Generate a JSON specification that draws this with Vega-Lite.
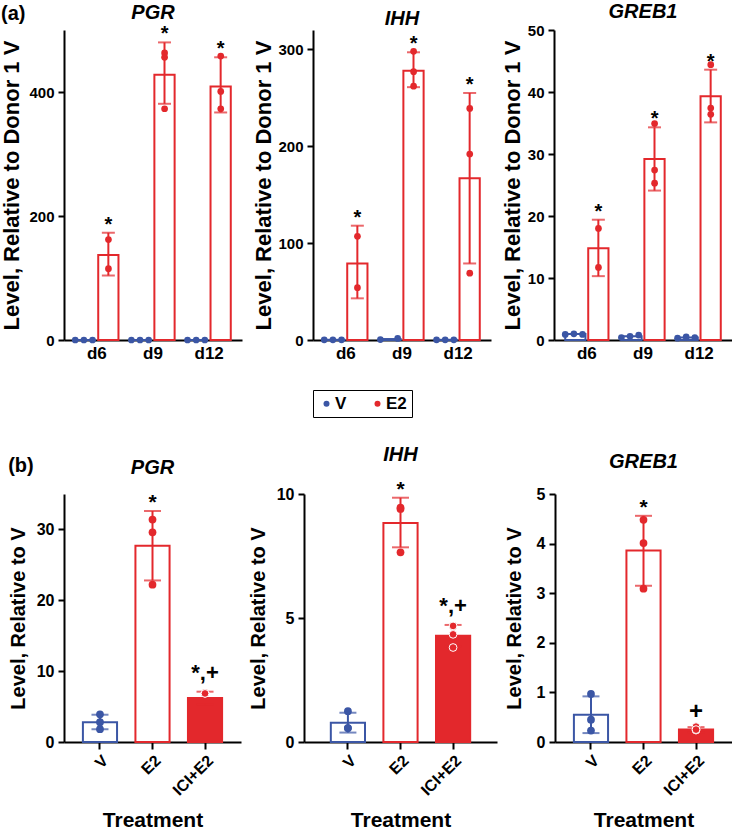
{
  "$schema": "https://vega.github.io/schema/vega-lite/v6.json",
  "padding": {"left": 0, "top": 2, "right": 0, "bottom": 0},
  "config": {
    "font": "Liberation Sans",
    "view": {"stroke": null},
    "axis": {"domainColor": "black", "domainWidth": 2, "tickColor": "black", "tickWidth": 2, "labelColor": "black", "labelFontWeight": "bold", "titleFontWeight": "bold", "titleColor": "black", "grid": false},
    "title": {"fontWeight": "bold", "fontStyle": "italic", "fontSize": 20, "color": "black"}
  },
  "datasets": {
    "aBars": [
      {"gene": "PGR", "day": "d6", "group": "V", "mean": 0, "lo": 0, "hi": 0, "sig": ""},
      {"gene": "PGR", "day": "d9", "group": "V", "mean": 0, "lo": 0, "hi": 0, "sig": ""},
      {"gene": "PGR", "day": "d12", "group": "V", "mean": 0, "lo": 0, "hi": 0, "sig": ""},
      {"gene": "PGR", "day": "d6", "group": "E2", "mean": 137, "lo": 104, "hi": 173, "sig": "*"},
      {"gene": "PGR", "day": "d9", "group": "E2", "mean": 428, "lo": 381, "hi": 480, "sig": "*"},
      {"gene": "PGR", "day": "d12", "group": "E2", "mean": 409, "lo": 367, "hi": 456, "sig": "*"},
      {"gene": "IHH", "day": "d6", "group": "V", "mean": 0.2, "lo": 0.1, "hi": 0.3, "sig": ""},
      {"gene": "IHH", "day": "d9", "group": "V", "mean": 1, "lo": 0.5, "hi": 1.5, "sig": ""},
      {"gene": "IHH", "day": "d12", "group": "V", "mean": 0.2, "lo": 0.1, "hi": 0.3, "sig": ""},
      {"gene": "IHH", "day": "d6", "group": "E2", "mean": 79, "lo": 43, "hi": 118, "sig": "*"},
      {"gene": "IHH", "day": "d9", "group": "E2", "mean": 278, "lo": 261, "hi": 297, "sig": "*"},
      {"gene": "IHH", "day": "d12", "group": "E2", "mean": 167, "lo": 79, "hi": 255, "sig": "*"},
      {"gene": "GREB1", "day": "d6", "group": "V", "mean": 0.95, "lo": 0.9, "hi": 1.0, "sig": ""},
      {"gene": "GREB1", "day": "d9", "group": "V", "mean": 0.6, "lo": 0.4, "hi": 0.8, "sig": ""},
      {"gene": "GREB1", "day": "d12", "group": "V", "mean": 0.4, "lo": 0.3, "hi": 0.5, "sig": ""},
      {"gene": "GREB1", "day": "d6", "group": "E2", "mean": 14.8, "lo": 10.3, "hi": 19.4, "sig": "*"},
      {"gene": "GREB1", "day": "d9", "group": "E2", "mean": 29.2, "lo": 24.1, "hi": 34.3, "sig": "*"},
      {"gene": "GREB1", "day": "d12", "group": "E2", "mean": 39.3, "lo": 35.1, "hi": 43.6, "sig": "*"}
    ],
    "aPts": [
      {"gene": "PGR", "day": "d6", "group": "V", "sample": "V-1", "value": 0},
      {"gene": "PGR", "day": "d6", "group": "V", "sample": "V-2", "value": 0},
      {"gene": "PGR", "day": "d6", "group": "V", "sample": "V-3", "value": 0},
      {"gene": "PGR", "day": "d9", "group": "V", "sample": "V-1", "value": 0},
      {"gene": "PGR", "day": "d9", "group": "V", "sample": "V-2", "value": 0},
      {"gene": "PGR", "day": "d9", "group": "V", "sample": "V-3", "value": 0},
      {"gene": "PGR", "day": "d12", "group": "V", "sample": "V-1", "value": 0},
      {"gene": "PGR", "day": "d12", "group": "V", "sample": "V-2", "value": 0},
      {"gene": "PGR", "day": "d12", "group": "V", "sample": "V-3", "value": 0},
      {"gene": "PGR", "day": "d6", "group": "E2", "sample": "E2-1", "value": 162},
      {"gene": "PGR", "day": "d6", "group": "E2", "sample": "E2-2", "value": 115},
      {"gene": "PGR", "day": "d9", "group": "E2", "sample": "E2-1", "value": 463},
      {"gene": "PGR", "day": "d9", "group": "E2", "sample": "E2-2", "value": 456},
      {"gene": "PGR", "day": "d9", "group": "E2", "sample": "E2-3", "value": 373},
      {"gene": "PGR", "day": "d12", "group": "E2", "sample": "E2-1", "value": 458},
      {"gene": "PGR", "day": "d12", "group": "E2", "sample": "E2-2", "value": 401},
      {"gene": "PGR", "day": "d12", "group": "E2", "sample": "E2-3", "value": 373},
      {"gene": "IHH", "day": "d6", "group": "V", "sample": "V-1", "value": 0.2},
      {"gene": "IHH", "day": "d6", "group": "V", "sample": "V-2", "value": 0.2},
      {"gene": "IHH", "day": "d6", "group": "V", "sample": "V-3", "value": 0.2},
      {"gene": "IHH", "day": "d9", "group": "V", "sample": "V-1", "value": 0.4},
      {"gene": "IHH", "day": "d9", "group": "V", "sample": "V-3", "value": 1.6},
      {"gene": "IHH", "day": "d12", "group": "V", "sample": "V-1", "value": 0.2},
      {"gene": "IHH", "day": "d12", "group": "V", "sample": "V-2", "value": 0.2},
      {"gene": "IHH", "day": "d12", "group": "V", "sample": "V-3", "value": 0.2},
      {"gene": "IHH", "day": "d6", "group": "E2", "sample": "E2-1", "value": 107},
      {"gene": "IHH", "day": "d6", "group": "E2", "sample": "E2-2", "value": 54},
      {"gene": "IHH", "day": "d9", "group": "E2", "sample": "E2-1", "value": 298},
      {"gene": "IHH", "day": "d9", "group": "E2", "sample": "E2-2", "value": 277},
      {"gene": "IHH", "day": "d9", "group": "E2", "sample": "E2-3", "value": 262},
      {"gene": "IHH", "day": "d12", "group": "E2", "sample": "E2-1", "value": 239},
      {"gene": "IHH", "day": "d12", "group": "E2", "sample": "E2-2", "value": 192},
      {"gene": "IHH", "day": "d12", "group": "E2", "sample": "E2-3", "value": 69},
      {"gene": "GREB1", "day": "d6", "group": "V", "sample": "V-1", "value": 0.9},
      {"gene": "GREB1", "day": "d6", "group": "V", "sample": "V-2", "value": 1.0},
      {"gene": "GREB1", "day": "d6", "group": "V", "sample": "V-3", "value": 0.9},
      {"gene": "GREB1", "day": "d9", "group": "V", "sample": "V-1", "value": 0.4},
      {"gene": "GREB1", "day": "d9", "group": "V", "sample": "V-2", "value": 0.6},
      {"gene": "GREB1", "day": "d9", "group": "V", "sample": "V-3", "value": 0.8},
      {"gene": "GREB1", "day": "d12", "group": "V", "sample": "V-1", "value": 0.3},
      {"gene": "GREB1", "day": "d12", "group": "V", "sample": "V-2", "value": 0.5},
      {"gene": "GREB1", "day": "d12", "group": "V", "sample": "V-3", "value": 0.4},
      {"gene": "GREB1", "day": "d6", "group": "E2", "sample": "E2-1", "value": 18.0},
      {"gene": "GREB1", "day": "d6", "group": "E2", "sample": "E2-2", "value": 11.7},
      {"gene": "GREB1", "day": "d9", "group": "E2", "sample": "E2-1", "value": 34.9},
      {"gene": "GREB1", "day": "d9", "group": "E2", "sample": "E2-2", "value": 27.4},
      {"gene": "GREB1", "day": "d9", "group": "E2", "sample": "E2-3", "value": 25.3},
      {"gene": "GREB1", "day": "d12", "group": "E2", "sample": "E2-1", "value": 44.4},
      {"gene": "GREB1", "day": "d12", "group": "E2", "sample": "E2-2", "value": 37.4},
      {"gene": "GREB1", "day": "d12", "group": "E2", "sample": "E2-3", "value": 36.4}
    ],
    "bBars": [
      {"gene": "PGR", "treatment": "V", "mean": 2.8, "lo": 1.8, "hi": 3.85, "sig": ""},
      {"gene": "PGR", "treatment": "E2", "mean": 27.7, "lo": 22.8, "hi": 32.6, "sig": "*"},
      {"gene": "PGR", "treatment": "ICI+E2", "mean": 6.2, "lo": 5.3, "hi": 7.1, "sig": "*,+"},
      {"gene": "IHH", "treatment": "V", "mean": 0.78, "lo": 0.38, "hi": 1.18, "sig": ""},
      {"gene": "IHH", "treatment": "E2", "mean": 8.83, "lo": 7.85, "hi": 9.85, "sig": "*"},
      {"gene": "IHH", "treatment": "ICI+E2", "mean": 4.28, "lo": 3.84, "hi": 4.72, "sig": "*,+"},
      {"gene": "GREB1", "treatment": "V", "mean": 0.55, "lo": 0.18, "hi": 0.92, "sig": ""},
      {"gene": "GREB1", "treatment": "E2", "mean": 3.86, "lo": 3.15, "hi": 4.56, "sig": "*"},
      {"gene": "GREB1", "treatment": "ICI+E2", "mean": 0.25, "lo": 0.2, "hi": 0.3, "sig": "+"}
    ],
    "bPts": [
      {"gene": "PGR", "treatment": "V", "value": 3.9},
      {"gene": "PGR", "treatment": "V", "value": 2.8},
      {"gene": "PGR", "treatment": "V", "value": 1.8},
      {"gene": "PGR", "treatment": "E2", "value": 31.4},
      {"gene": "PGR", "treatment": "E2", "value": 29.6},
      {"gene": "PGR", "treatment": "E2", "value": 22.2},
      {"gene": "PGR", "treatment": "ICI+E2", "value": 6.95},
      {"gene": "PGR", "treatment": "ICI+E2", "value": 6.9},
      {"gene": "PGR", "treatment": "ICI+E2", "value": 6.85},
      {"gene": "IHH", "treatment": "V", "value": 1.24},
      {"gene": "IHH", "treatment": "V", "value": 0.56},
      {"gene": "IHH", "treatment": "V", "value": 0.56},
      {"gene": "IHH", "treatment": "E2", "value": 9.45},
      {"gene": "IHH", "treatment": "E2", "value": 9.4},
      {"gene": "IHH", "treatment": "E2", "value": 7.65},
      {"gene": "IHH", "treatment": "ICI+E2", "value": 4.68},
      {"gene": "IHH", "treatment": "ICI+E2", "value": 4.34},
      {"gene": "IHH", "treatment": "ICI+E2", "value": 3.81},
      {"gene": "GREB1", "treatment": "V", "value": 0.97},
      {"gene": "GREB1", "treatment": "V", "value": 0.45},
      {"gene": "GREB1", "treatment": "V", "value": 0.23},
      {"gene": "GREB1", "treatment": "E2", "value": 4.48},
      {"gene": "GREB1", "treatment": "E2", "value": 4.01},
      {"gene": "GREB1", "treatment": "E2", "value": 3.09},
      {"gene": "GREB1", "treatment": "ICI+E2", "value": 0.24},
      {"gene": "GREB1", "treatment": "ICI+E2", "value": 0.31},
      {"gene": "GREB1", "treatment": "ICI+E2", "value": 0.25}
    ]
  },
  "vconcat": [
    {
      "title": {"text": "(a)", "anchor": "start", "frame": "bounds", "fontStyle": "normal", "fontSize": 20, "offset": -22},
      "columns": 3,
      "align": "none",
      "spacing": 10,
      "resolve": {"scale": {"color": "independent"}},
      "concat": [
        {
          "width": 178, "height": 310,
          "title": {"text": "PGR", "offset": 1},
          "encoding": {
            "x": {"field": "day", "type": "nominal", "sort": ["d6", "d9", "d12"], "title": null, "scale": {"paddingInner": 0.23, "paddingOuter": 0.2}, "axis": {"ticks": false, "labelAngle": 0, "labelPadding": 5, "labelFontSize": 17}}
          },
          "resolve": {"scale": {"xOffset": "independent"}},
          "layer": [
            {"data": {"name": "aBars"}, "transform": [{"filter": "datum.gene === 'PGR'"}],
             "mark": {"type": "bar", "fill": "white", "strokeWidth": 2},
             "encoding": {
               "xOffset": {"field": "group", "scale": {"domain": ["V", "E2"], "paddingInner": 0.12, "paddingOuter": 0}},
               "y": {"field": "mean", "type": "quantitative", "scale": {"domain": [0, 500], "nice": false}, "title": "Level, Relative to Donor 1 V", "axis": {"values": [0, 200, 400], "tickSize": 6, "labelPadding": 4, "labelFontSize": 15, "titleFontSize": 22, "titlePadding": 5}},
               "stroke": {"field": "group", "scale": {"domain": ["V", "E2"], "range": ["#3b56a5", "#e3282c"]}, "legend": null}}},
            {"data": {"name": "aBars"}, "transform": [{"filter": "datum.gene === 'PGR' && datum.group === 'E2'"}],
             "mark": {"type": "rule", "strokeWidth": 2},
             "encoding": {
               "xOffset": {"field": "group", "scale": {"domain": ["V", "E2"], "paddingInner": 0.12, "paddingOuter": 0}},
               "y": {"field": "lo", "type": "quantitative"}, "y2": {"field": "hi"},
               "stroke": {"field": "group", "legend": null}}},
            {"data": {"name": "aBars"}, "transform": [{"filter": "datum.gene === 'PGR' && datum.group === 'E2'"}, {"fold": ["lo", "hi"], "as": ["end", "yv"]}],
             "mark": {"type": "tick", "orient": "horizontal", "size": 13, "thickness": 2},
             "encoding": {
               "xOffset": {"field": "group", "scale": {"domain": ["V", "E2"], "paddingInner": 0.12, "paddingOuter": 0}},
               "y": {"field": "yv", "type": "quantitative"},
               "fill": {"field": "group", "scale": {"domain": ["V", "E2"], "range": ["#3b56a5", "#e3282c"]}, "legend": null}}},
            {"data": {"name": "aPts"}, "transform": [{"filter": "datum.gene === 'PGR' && datum.group === 'V'"}],
             "mark": {"type": "circle", "size": 45, "opacity": 1},
             "encoding": {
               "xOffset": {"field": "sample", "scale": {"domain": ["V-1", "V-2", "V-3", "E2-1", "E2-2", "E2-3"], "paddingInner": 0, "paddingOuter": 0}},
               "y": {"field": "value", "type": "quantitative"},
               "color": {"field": "group", "scale": {"domain": ["V", "E2"], "range": ["#3b56a5", "#e3282c"]}, "legend": null}}},
            {"data": {"name": "aPts"}, "transform": [{"filter": "datum.gene === 'PGR' && datum.group === 'E2'"}],
             "mark": {"type": "circle", "size": 45, "opacity": 1, "xOffset": 11.6},
             "encoding": {
               "y": {"field": "value", "type": "quantitative"},
               "color": {"field": "group", "legend": null}}},
            {"data": {"name": "aBars"}, "transform": [{"filter": "datum.gene === 'PGR' && datum.sig !== ''"}],
             "mark": {"type": "text", "fontSize": 20, "fontWeight": "bold", "baseline": "alphabetic", "dy": -2, "xOffset": 11.6, "color": "black"},
             "encoding": {
               "y": {"field": "hi", "type": "quantitative"},
               "text": {"field": "sig"}}}
          ]
        },
        {
          "width": 178, "height": 310,
          "title": {"text": "IHH", "offset": 1},
          "encoding": {
            "x": {"field": "day", "type": "nominal", "sort": ["d6", "d9", "d12"], "title": null, "scale": {"paddingInner": 0.23, "paddingOuter": 0.2}, "axis": {"ticks": false, "labelAngle": 0, "labelPadding": 5, "labelFontSize": 17}}
          },
          "resolve": {"scale": {"xOffset": "independent"}},
          "layer": [
            {"data": {"name": "aBars"}, "transform": [{"filter": "datum.gene === 'IHH'"}],
             "mark": {"type": "bar", "fill": "white", "strokeWidth": 2},
             "encoding": {
               "xOffset": {"field": "group", "scale": {"domain": ["V", "E2"], "paddingInner": 0.12, "paddingOuter": 0}},
               "y": {"field": "mean", "type": "quantitative", "scale": {"domain": [0, 320], "nice": false}, "title": "Level, Relative to Donor 1 V", "axis": {"values": [0, 100, 200, 300], "tickSize": 6, "labelPadding": 4, "labelFontSize": 15, "titleFontSize": 22, "titlePadding": 2}},
               "stroke": {"field": "group", "scale": {"domain": ["V", "E2"], "range": ["#3b56a5", "#e3282c"]}, "legend": null}}},
            {"data": {"name": "aBars"}, "transform": [{"filter": "datum.gene === 'IHH' && datum.group === 'E2'"}],
             "mark": {"type": "rule", "strokeWidth": 2},
             "encoding": {
               "xOffset": {"field": "group", "scale": {"domain": ["V", "E2"], "paddingInner": 0.12, "paddingOuter": 0}},
               "y": {"field": "lo", "type": "quantitative"}, "y2": {"field": "hi"},
               "stroke": {"field": "group", "legend": null}}},
            {"data": {"name": "aBars"}, "transform": [{"filter": "datum.gene === 'IHH' && datum.group === 'E2'"}, {"fold": ["lo", "hi"], "as": ["end", "yv"]}],
             "mark": {"type": "tick", "orient": "horizontal", "size": 13, "thickness": 2},
             "encoding": {
               "xOffset": {"field": "group", "scale": {"domain": ["V", "E2"], "paddingInner": 0.12, "paddingOuter": 0}},
               "y": {"field": "yv", "type": "quantitative"},
               "fill": {"field": "group", "scale": {"domain": ["V", "E2"], "range": ["#3b56a5", "#e3282c"]}, "legend": null}}},
            {"data": {"name": "aPts"}, "transform": [{"filter": "datum.gene === 'IHH' && datum.group === 'V'"}],
             "mark": {"type": "circle", "size": 45, "opacity": 1},
             "encoding": {
               "xOffset": {"field": "sample", "scale": {"domain": ["V-1", "V-2", "V-3", "E2-1", "E2-2", "E2-3"], "paddingInner": 0, "paddingOuter": 0}},
               "y": {"field": "value", "type": "quantitative"},
               "color": {"field": "group", "scale": {"domain": ["V", "E2"], "range": ["#3b56a5", "#e3282c"]},
                 "legend": {"title": null, "orient": "bottom", "offset": 29, "direction": "horizontal", "strokeColor": "black", "padding": 5, "symbolType": "circle", "symbolSize": 36, "symbolOpacity": 1, "labelFontSize": 17, "labelFontWeight": "bold", "labelColor": "black", "labelOffset": 0, "columnPadding": 22}}}},
            {"data": {"name": "aPts"}, "transform": [{"filter": "datum.gene === 'IHH' && datum.group === 'E2'"}],
             "mark": {"type": "circle", "size": 45, "opacity": 1, "xOffset": 11.6},
             "encoding": {
               "y": {"field": "value", "type": "quantitative"},
               "color": {"field": "group"}}},
            {"data": {"name": "aBars"}, "transform": [{"filter": "datum.gene === 'IHH' && datum.sig !== ''"}],
             "mark": {"type": "text", "fontSize": 20, "fontWeight": "bold", "baseline": "alphabetic", "dy": -2, "xOffset": 11.6, "color": "black"},
             "encoding": {
               "y": {"field": "hi", "type": "quantitative"},
               "text": {"field": "sig"}}}
          ]
        },
        {
          "width": 178, "height": 310,
          "title": {"text": "GREB1", "offset": 1},
          "encoding": {
            "x": {"field": "day", "type": "nominal", "sort": ["d6", "d9", "d12"], "title": null, "scale": {"paddingInner": 0.23, "paddingOuter": 0.2}, "axis": {"ticks": false, "labelAngle": 0, "labelPadding": 5, "labelFontSize": 17}}
          },
          "resolve": {"scale": {"xOffset": "independent"}},
          "layer": [
            {"data": {"name": "aBars"}, "transform": [{"filter": "datum.gene === 'GREB1'"}],
             "mark": {"type": "bar", "fill": "white", "strokeWidth": 2},
             "encoding": {
               "xOffset": {"field": "group", "scale": {"domain": ["V", "E2"], "paddingInner": 0.12, "paddingOuter": 0}},
               "y": {"field": "mean", "type": "quantitative", "scale": {"domain": [0, 50], "nice": false}, "title": "Level, Relative to Donor 1 V", "axis": {"values": [0, 10, 20, 30, 40, 50], "tickSize": 6, "labelPadding": 4, "labelFontSize": 15, "titleFontSize": 22, "titlePadding": 3}},
               "stroke": {"field": "group", "scale": {"domain": ["V", "E2"], "range": ["#3b56a5", "#e3282c"]}, "legend": null}}},
            {"data": {"name": "aBars"}, "transform": [{"filter": "datum.gene === 'GREB1' && datum.group === 'E2'"}],
             "mark": {"type": "rule", "strokeWidth": 2},
             "encoding": {
               "xOffset": {"field": "group", "scale": {"domain": ["V", "E2"], "paddingInner": 0.12, "paddingOuter": 0}},
               "y": {"field": "lo", "type": "quantitative"}, "y2": {"field": "hi"},
               "stroke": {"field": "group", "legend": null}}},
            {"data": {"name": "aBars"}, "transform": [{"filter": "datum.gene === 'GREB1' && datum.group === 'E2'"}, {"fold": ["lo", "hi"], "as": ["end", "yv"]}],
             "mark": {"type": "tick", "orient": "horizontal", "size": 13, "thickness": 2},
             "encoding": {
               "xOffset": {"field": "group", "scale": {"domain": ["V", "E2"], "paddingInner": 0.12, "paddingOuter": 0}},
               "y": {"field": "yv", "type": "quantitative"},
               "fill": {"field": "group", "scale": {"domain": ["V", "E2"], "range": ["#3b56a5", "#e3282c"]}, "legend": null}}},
            {"data": {"name": "aPts"}, "transform": [{"filter": "datum.gene === 'GREB1' && datum.group === 'V'"}],
             "mark": {"type": "circle", "size": 45, "opacity": 1},
             "encoding": {
               "xOffset": {"field": "sample", "scale": {"domain": ["V-1", "V-2", "V-3", "E2-1", "E2-2", "E2-3"], "paddingInner": 0, "paddingOuter": 0}},
               "y": {"field": "value", "type": "quantitative"},
               "color": {"field": "group", "scale": {"domain": ["V", "E2"], "range": ["#3b56a5", "#e3282c"]}, "legend": null}}},
            {"data": {"name": "aPts"}, "transform": [{"filter": "datum.gene === 'GREB1' && datum.group === 'E2'"}],
             "mark": {"type": "circle", "size": 45, "opacity": 1, "xOffset": 11.6},
             "encoding": {
               "y": {"field": "value", "type": "quantitative"},
               "color": {"field": "group", "legend": null}}},
            {"data": {"name": "aBars"}, "transform": [{"filter": "datum.gene === 'GREB1' && datum.sig !== ''"}],
             "mark": {"type": "text", "fontSize": 20, "fontWeight": "bold", "baseline": "alphabetic", "dy": -2, "xOffset": 11.6, "color": "black"},
             "encoding": {
               "y": {"field": "hi", "type": "quantitative"},
               "text": {"field": "sig"}}}
          ]
        }
      ]
    },
    {
      "title": {"text": "(b)", "anchor": "start", "frame": "bounds", "fontStyle": "normal", "fontSize": 20, "offset": -31},
      "columns": 3,
      "align": "none",
      "spacing": 7,
      "concat": [
        {
          "width": 177, "height": 248,
          "title": {"text": "PGR", "offset": 14},
          "encoding": {
            "x": {"field": "treatment", "type": "nominal", "sort": ["V", "E2", "ICI+E2"], "title": "Treatment", "scale": {"paddingInner": 0.35, "paddingOuter": 0.36}, "axis": {"tickSize": 7, "labelAngle": -45, "labelPadding": 3, "labelFontSize": 16, "titleFontSize": 21, "titlePadding": 11}}
          },
          "layer": [
            {"data": {"name": "bBars"}, "transform": [{"filter": "datum.gene === 'PGR'"}],
             "mark": {"type": "bar", "strokeWidth": 2},
             "encoding": {
               "y": {"field": "mean", "type": "quantitative", "scale": {"domain": [0, 35], "nice": false}, "title": "Level, Relative to V", "axis": {"values": [0, 10, 20, 30], "tickSize": 6, "labelPadding": 4, "labelFontSize": 16, "titleFontSize": 20, "titlePadding": 8}},
               "fill": {"condition": {"test": "datum.treatment === 'ICI+E2'", "value": "#e3282c"}, "value": "white"},
               "stroke": {"field": "treatment", "scale": {"domain": ["V", "E2", "ICI+E2"], "range": ["#3b56a5", "#e3282c", "#e3282c"]}, "legend": null}}},
            {"data": {"name": "bBars"}, "transform": [{"filter": "datum.gene === 'PGR'"}],
             "mark": {"type": "rule", "strokeWidth": 2},
             "encoding": {"y": {"field": "lo", "type": "quantitative"}, "y2": {"field": "hi"}, "stroke": {"field": "treatment", "legend": null}}},
            {"data": {"name": "bBars"}, "transform": [{"filter": "datum.gene === 'PGR'"}, {"fold": ["lo", "hi"], "as": ["end", "yv"]}],
             "mark": {"type": "tick", "orient": "horizontal", "size": 17, "thickness": 2},
             "encoding": {"y": {"field": "yv", "type": "quantitative"}, "fill": {"field": "treatment", "scale": {"domain": ["V", "E2", "ICI+E2"], "range": ["#3b56a5", "#e3282c", "#e3282c"]}, "legend": null}}},
            {"data": {"name": "bPts"}, "transform": [{"filter": "datum.gene === 'PGR'"}],
             "mark": {"type": "circle", "size": 60, "opacity": 1, "strokeWidth": 1},
             "encoding": {"y": {"field": "value", "type": "quantitative"},
               "color": {"field": "treatment", "scale": {"domain": ["V", "E2", "ICI+E2"], "range": ["#3b56a5", "#e3282c", "#e3282c"]}, "legend": null},
               "stroke": {"condition": {"test": "datum.treatment === 'ICI+E2'", "value": "white"}, "value": null}}},
            {"data": {"name": "bBars"}, "transform": [{"filter": "datum.gene === 'PGR' && datum.sig === '*'"}],
             "mark": {"type": "text", "fontSize": 21, "fontWeight": "bold", "baseline": "alphabetic", "dy": -2, "color": "black"},
             "encoding": {"y": {"field": "hi", "type": "quantitative"}, "text": {"field": "sig"}}},
            {"data": {"name": "bBars"}, "transform": [{"filter": "datum.gene === 'PGR' && datum.sig !== '*' && datum.sig !== ''"}],
             "mark": {"type": "text", "fontSize": 22, "fontWeight": "bold", "baseline": "alphabetic", "dy": -12, "color": "black"},
             "encoding": {"y": {"field": "hi", "type": "quantitative"}, "text": {"field": "sig"}}}
          ]
        },
        {
          "width": 193, "height": 248,
          "title": {"text": "IHH", "offset": 14},
          "encoding": {
            "x": {"field": "treatment", "type": "nominal", "sort": ["V", "E2", "ICI+E2"], "title": "Treatment", "scale": {"paddingInner": 0.35, "paddingOuter": 0.51}, "axis": {"tickSize": 7, "labelAngle": -45, "labelPadding": 3, "labelFontSize": 16, "titleFontSize": 21, "titlePadding": 11}}
          },
          "layer": [
            {"data": {"name": "bBars"}, "transform": [{"filter": "datum.gene === 'IHH'"}],
             "mark": {"type": "bar", "strokeWidth": 2},
             "encoding": {
               "y": {"field": "mean", "type": "quantitative", "scale": {"domain": [0, 10], "nice": false}, "title": "Level, Relative to V", "axis": {"values": [0, 5, 10], "tickSize": 6, "labelPadding": 4, "labelFontSize": 16, "titleFontSize": 20, "titlePadding": 8}},
               "fill": {"condition": {"test": "datum.treatment === 'ICI+E2'", "value": "#e3282c"}, "value": "white"},
               "stroke": {"field": "treatment", "scale": {"domain": ["V", "E2", "ICI+E2"], "range": ["#3b56a5", "#e3282c", "#e3282c"]}, "legend": null}}},
            {"data": {"name": "bBars"}, "transform": [{"filter": "datum.gene === 'IHH'"}],
             "mark": {"type": "rule", "strokeWidth": 2},
             "encoding": {"y": {"field": "lo", "type": "quantitative"}, "y2": {"field": "hi"}, "stroke": {"field": "treatment", "legend": null}}},
            {"data": {"name": "bBars"}, "transform": [{"filter": "datum.gene === 'IHH'"}, {"fold": ["lo", "hi"], "as": ["end", "yv"]}],
             "mark": {"type": "tick", "orient": "horizontal", "size": 17, "thickness": 2},
             "encoding": {"y": {"field": "yv", "type": "quantitative"}, "fill": {"field": "treatment", "scale": {"domain": ["V", "E2", "ICI+E2"], "range": ["#3b56a5", "#e3282c", "#e3282c"]}, "legend": null}}},
            {"data": {"name": "bPts"}, "transform": [{"filter": "datum.gene === 'IHH'"}],
             "mark": {"type": "circle", "size": 60, "opacity": 1, "strokeWidth": 1},
             "encoding": {"y": {"field": "value", "type": "quantitative"},
               "color": {"field": "treatment", "scale": {"domain": ["V", "E2", "ICI+E2"], "range": ["#3b56a5", "#e3282c", "#e3282c"]}, "legend": null},
               "stroke": {"condition": {"test": "datum.treatment === 'ICI+E2'", "value": "white"}, "value": null}}},
            {"data": {"name": "bBars"}, "transform": [{"filter": "datum.gene === 'IHH' && datum.sig === '*'"}],
             "mark": {"type": "text", "fontSize": 21, "fontWeight": "bold", "baseline": "alphabetic", "dy": -2, "color": "black"},
             "encoding": {"y": {"field": "hi", "type": "quantitative"}, "text": {"field": "sig"}}},
            {"data": {"name": "bBars"}, "transform": [{"filter": "datum.gene === 'IHH' && datum.sig !== '*' && datum.sig !== ''"}],
             "mark": {"type": "text", "fontSize": 22, "fontWeight": "bold", "baseline": "alphabetic", "dy": -12, "color": "black"},
             "encoding": {"y": {"field": "hi", "type": "quantitative"}, "text": {"field": "sig"}}}
          ]
        },
        {
          "width": 177, "height": 248,
          "title": {"text": "GREB1", "offset": 14},
          "encoding": {
            "x": {"field": "treatment", "type": "nominal", "sort": ["V", "E2", "ICI+E2"], "title": "Treatment", "scale": {"paddingInner": 0.35, "paddingOuter": 0.36}, "axis": {"tickSize": 7, "labelAngle": -45, "labelPadding": 3, "labelFontSize": 16, "titleFontSize": 21, "titlePadding": 11}}
          },
          "layer": [
            {"data": {"name": "bBars"}, "transform": [{"filter": "datum.gene === 'GREB1'"}],
             "mark": {"type": "bar", "strokeWidth": 2},
             "encoding": {
               "y": {"field": "mean", "type": "quantitative", "scale": {"domain": [0, 5], "nice": false}, "title": "Level, Relative to V", "axis": {"values": [0, 1, 2, 3, 4, 5], "tickSize": 6, "labelPadding": 4, "labelFontSize": 16, "titleFontSize": 20, "titlePadding": 12}},
               "fill": {"condition": {"test": "datum.treatment === 'ICI+E2'", "value": "#e3282c"}, "value": "white"},
               "stroke": {"field": "treatment", "scale": {"domain": ["V", "E2", "ICI+E2"], "range": ["#3b56a5", "#e3282c", "#e3282c"]}, "legend": null}}},
            {"data": {"name": "bBars"}, "transform": [{"filter": "datum.gene === 'GREB1'"}],
             "mark": {"type": "rule", "strokeWidth": 2},
             "encoding": {"y": {"field": "lo", "type": "quantitative"}, "y2": {"field": "hi"}, "stroke": {"field": "treatment", "legend": null}}},
            {"data": {"name": "bBars"}, "transform": [{"filter": "datum.gene === 'GREB1'"}, {"fold": ["lo", "hi"], "as": ["end", "yv"]}],
             "mark": {"type": "tick", "orient": "horizontal", "size": 17, "thickness": 2},
             "encoding": {"y": {"field": "yv", "type": "quantitative"}, "fill": {"field": "treatment", "scale": {"domain": ["V", "E2", "ICI+E2"], "range": ["#3b56a5", "#e3282c", "#e3282c"]}, "legend": null}}},
            {"data": {"name": "bPts"}, "transform": [{"filter": "datum.gene === 'GREB1'"}],
             "mark": {"type": "circle", "size": 60, "opacity": 1, "strokeWidth": 1},
             "encoding": {"y": {"field": "value", "type": "quantitative"},
               "color": {"field": "treatment", "scale": {"domain": ["V", "E2", "ICI+E2"], "range": ["#3b56a5", "#e3282c", "#e3282c"]}, "legend": null},
               "stroke": {"condition": {"test": "datum.treatment === 'ICI+E2'", "value": "white"}, "value": null}}},
            {"data": {"name": "bBars"}, "transform": [{"filter": "datum.gene === 'GREB1' && datum.sig === '*'"}],
             "mark": {"type": "text", "fontSize": 21, "fontWeight": "bold", "baseline": "alphabetic", "dy": -2, "color": "black"},
             "encoding": {"y": {"field": "hi", "type": "quantitative"}, "text": {"field": "sig"}}},
            {"data": {"name": "bBars"}, "transform": [{"filter": "datum.gene === 'GREB1' && datum.sig !== '*' && datum.sig !== ''"}],
             "mark": {"type": "text", "fontSize": 24, "fontWeight": "bold", "baseline": "alphabetic", "dy": -8, "color": "black"},
             "encoding": {"y": {"field": "hi", "type": "quantitative"}, "text": {"field": "sig"}}}
          ]
        }
      ]
    }
  ],
  "spacing": 26,
  "resolve": {"scale": {"color": "independent", "stroke": "independent", "fill": "independent"}}
}
